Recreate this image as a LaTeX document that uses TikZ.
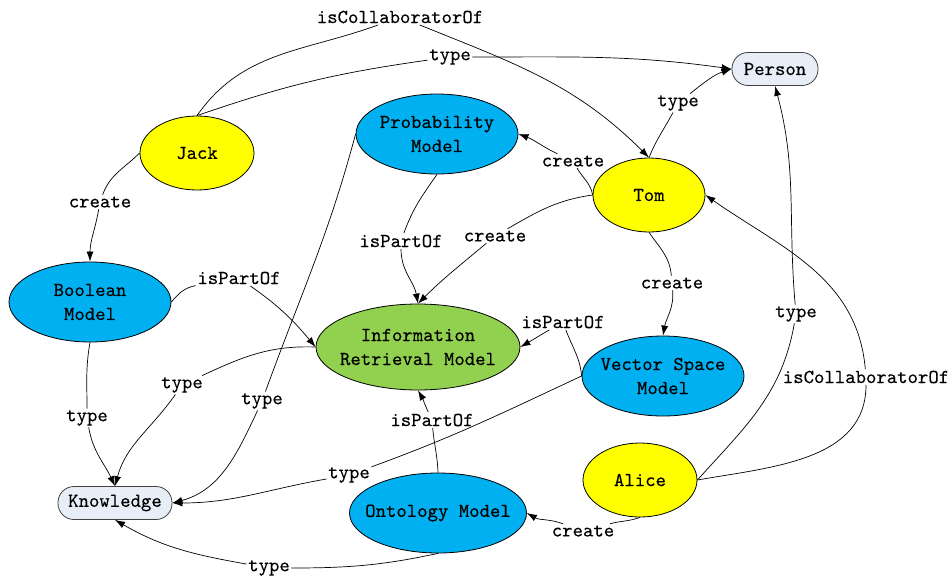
\documentclass[tikz,border=0pt]{standalone}
\usepackage{fontspec}
\setmonofont{lmmono10-regular.otf}[FakeBold=0.25]
\usetikzlibrary{shapes.geometric,arrows.meta}
\definecolor{cyel}{RGB}{255,255,0}
\definecolor{cblue}{RGB}{0,176,240}
\definecolor{cgreen}{RGB}{146,208,80}
\definecolor{cclass}{RGB}{232,238,248}
\begin{document}
\begin{tikzpicture}[x=1pt,y=1pt,
  every node/.style={font=\ttfamily\fontsize{19.8}{24}\selectfont},
  ell/.style={ellipse,draw=black,line width=0.8pt,inner xsep=-15pt,inner ysep=0pt,align=center},
  ppl/.style={ell,fill=cyel,minimum width=114,minimum height=74},
  mdl/.style={ell,fill=cblue,minimum width=162,minimum height=80},
  cls/.style={rectangle,rounded corners=16pt,draw=black!75,line width=0.8pt,fill=cclass,minimum width=86,minimum height=33,inner sep=0pt},
  lab/.style={inner sep=1.5pt},
  edge/.style={line width=0.7pt,-{Latex[length=10pt,width=7pt]}},
  seg/.style={line width=0.7pt}]
\useasboundingbox (0,0) rectangle (950,-579);
% nodes
\node[ppl] (jack) at (197,-153) {Jack};
\node[cls] (person) at (775,-69) {Person};
\node[mdl] (prob) at (437,-134) {Probability\\Model};
\node[ppl,minimum width=112] (tom) at (649,-195) {Tom};
\node[mdl] (boolean) at (90,-302) {Boolean\\Model};
\node[ell,fill=cgreen,minimum width=204,minimum height=86] (ir) at (418,-347) {Information\\Retrieval Model};
\node[mdl] (vector) at (663,-376) {Vector Space\\Model};
\node[cls,minimum width=114] (knowledge) at (115,-503) {Knowledge};
\node[mdl,minimum width=177] (onto) at (438,-513) {Ontology Model};
\node[ppl] (alice) at (640,-480) {Alice};
% labels
\node[lab] (l1) at (400,-17) {isCollaboratorOf};
\node[lab] (l2) at (450,-57) {type};
\node[lab] (l3) at (100,-202) {create};
\node[lab] (l4) at (678,-103) {type};
\node[lab] (l5) at (573,-161) {create};
\node[lab] (l6) at (495,-236) {create};
\node[lab] (l7) at (672,-283) {create};
\node[lab] (l8) at (401,-241) {isPartOf};
\node[lab] (l9) at (262,-401) {type};
\node[lab] (l10) at (239,-278) {isPartOf};
\node[lab] (l11) at (87,-418) {type};
\node[lab] (l12) at (182,-385) {type};
\node[lab] (l13) at (563,-322) {isPartOf};
\node[lab] (l14) at (349,-475) {type};
\node[lab] (l15) at (432,-420) {isPartOf};
\node[lab] (l16) at (269,-568) {type};
\node[lab] (l17) at (583,-531) {create};
\node[lab] (l18) at (796,-314) {type};
\node[lab] (l19) at (866,-377) {isCollaboratorOf};
% edges
\draw[seg] (jack.north) to[out=55,in=200] (l1);
\draw[edge] (l1) to[out=-22,in=135] (tom.north);
\draw[seg] (jack.north) to[out=19,in=188] (l2);
\draw[edge] (l2) to[out=0,in=172] (person.west);
\draw[seg] (jack.west) to[out=-135,in=70] (l3);
\draw[edge] (l3) to[out=-100,in=90] (boolean.north);
\draw[seg] (tom.north) to[out=68,in=-118] (l4);
\draw[edge] (l4) to[out=38,in=198] (person.west);
\draw[seg] (tom.west) to[out=100,in=-60] (l5);
\draw[edge] (l5) to[out=155,in=-20] (prob.east);
\draw[seg] (tom.west) to[out=188,in=30] (l6);
\draw[edge] (l6) to[out=-140,in=45] (ir.north);
\draw[seg] (tom.south) to[out=-55,in=95] (l7);
\draw[edge] (l7) to[out=-85,in=80] (vector.north);
\draw[seg] (prob.south) to[out=-125,in=70] (l8);
\draw[edge] (l8) to[out=-90,in=100] (ir.north);
\draw[seg] (prob.west) to[out=-105,in=70] (l9);
\draw[edge] (l9) to[out=-115,in=15] (knowledge.east);
\draw[seg] (boolean.east) to[out=50,in=190] (l10);
\draw[edge] (l10) to[out=-35,in=130] (ir.west);
\draw[seg] (boolean.south) to[out=-100,in=90] (l11);
\draw[edge] (l11) to[out=-80,in=115] (knowledge.north);
\draw[seg] (ir.west) to[out=178,in=25] (l12);
\draw[edge] (l12) to[out=-125,in=75] (knowledge.north);
\draw[seg] (vector.west) to[out=95,in=-70] (l13);
\draw[edge] (l13) to[out=-150,in=30] (ir.east);
\draw[seg] (vector.west) to[out=-155,in=20] (l14);
\draw[edge] (l14) to[out=-170,in=0] (knowledge.east);
\draw[seg] (onto.north) to[out=92,in=-85] (l15);
\draw[edge] (l15) to[out=115,in=-60] (ir.south);
\draw[seg] (onto.south) to[out=-168,in=0] (l16);
\draw[edge] (l16) to[out=170,in=-30] (knowledge.south);
\draw[seg] (alice.south) to[out=-160,in=15] (l17);
\draw[edge] (l17) to[out=160,in=-30] (onto.east);
\draw[seg] (alice.east) to[out=48,in=-100] (l18);
\draw[edge] (l18) to[out=95,in=-75] (person.south);
\draw[seg] (alice.east) to[out=10,in=-90] (l19);
\draw[edge] (l19) to[out=95,in=-35] (tom.east);
\end{tikzpicture}
\end{document}
